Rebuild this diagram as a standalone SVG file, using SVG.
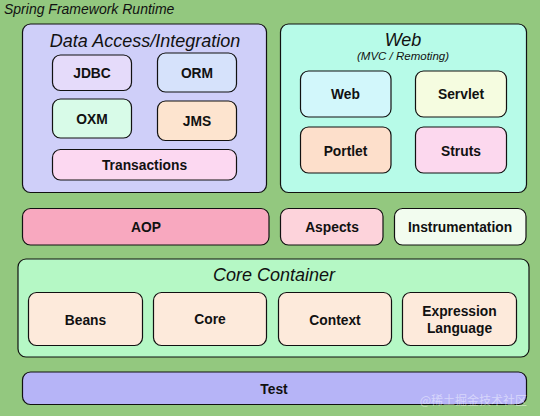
<svg xmlns="http://www.w3.org/2000/svg" width="540" height="416" viewBox="0 0 540 416">
<style>
.box{stroke:#111;stroke-width:1.2}
.lbl{font-family:"Liberation Sans",Arial,sans-serif;font-weight:bold;font-size:13.8px;fill:#111;text-anchor:middle}
.ttl{font-family:"Liberation Sans",Arial,sans-serif;font-style:italic;font-size:18px;fill:#111;text-anchor:middle}
</style>
<rect x="0" y="0" width="540" height="416" fill="#93c87f"/>
<text x="4" y="14" font-family="Liberation Sans, Arial, sans-serif" font-style="italic" font-size="14" fill="#111">Spring Framework Runtime</text>

<g id="data-access">
<rect class="box" x="22.5" y="24" width="244" height="168.5" rx="8" fill="#cfcff9"/>
<text class="ttl" x="145" y="47">Data Access/Integration</text>
</g>
<g id="jdbc"><rect class="box" x="52.5" y="55" width="79" height="35.5" rx="8" fill="#e5dbfa"/><text class="lbl" x="92" y="77.5">JDBC</text></g>
<g id="orm"><rect class="box" x="157.5" y="53" width="79" height="39" rx="8" fill="#d6e2fb"/><text class="lbl" x="197" y="77.5">ORM</text></g>
<g id="oxm"><rect class="box" x="52.5" y="99" width="79" height="39" rx="8" fill="#d8fbe8"/><text class="lbl" x="92" y="123.5">OXM</text></g>
<g id="jms"><rect class="box" x="157.5" y="101" width="79" height="39.5" rx="8" fill="#fde4cf"/><text class="lbl" x="197" y="125.5">JMS</text></g>
<g id="transactions"><rect class="box" x="52.5" y="149.5" width="184" height="30.5" rx="8" fill="#fcd8f1"/><text class="lbl" x="144.5" y="170">Transactions</text></g>

<g id="web-group">
<rect class="box" x="280.5" y="24" width="246" height="168.5" rx="8" fill="#b7fbe8"/>
<text class="ttl" x="403" y="46">Web</text>
<text x="403" y="60" font-family="Liberation Sans, Arial, sans-serif" font-style="italic" font-size="11.5" fill="#111" text-anchor="middle">(MVC / Remoting)</text>
</g>
<g id="web"><rect class="box" x="300.5" y="71" width="90.5" height="46" rx="8" fill="#d2f7fb"/><text class="lbl" x="345.5" y="99">Web</text></g>
<g id="servlet"><rect class="box" x="415.5" y="71" width="91" height="46" rx="8" fill="#f5fce0"/><text class="lbl" x="461" y="99">Servlet</text></g>
<g id="portlet"><rect class="box" x="300.5" y="127" width="90.5" height="46" rx="8" fill="#fddfcb"/><text class="lbl" x="345.5" y="156">Portlet</text></g>
<g id="struts"><rect class="box" x="415.5" y="127" width="91" height="46" rx="8" fill="#fcd8ee"/><text class="lbl" x="461" y="156">Struts</text></g>

<g id="aop"><rect class="box" x="22.5" y="208.5" width="246.5" height="36.5" rx="8" fill="#f8a8bf"/><text class="lbl" x="146" y="232">AOP</text></g>
<g id="aspects"><rect class="box" x="280.5" y="208.5" width="102.5" height="36.5" rx="8" fill="#fdd3db"/><text class="lbl" x="332" y="232">Aspects</text></g>
<g id="instrumentation"><rect class="box" x="394.5" y="208.5" width="131.5" height="36.5" rx="8" fill="#f2fcef"/><text class="lbl" x="460" y="232">Instrumentation</text></g>

<g id="core-container">
<rect class="box" x="18" y="259" width="511" height="98" rx="8" fill="#b5f8c5"/>
<text class="ttl" x="274" y="281">Core Container</text>
</g>
<g id="beans"><rect class="box" x="28.5" y="292.5" width="114" height="53" rx="8" fill="#fdeadb"/><text class="lbl" x="85.5" y="325">Beans</text></g>
<g id="core"><rect class="box" x="153.5" y="292.5" width="113" height="53" rx="8" fill="#fdeadb"/><text class="lbl" x="210" y="324">Core</text></g>
<g id="context"><rect class="box" x="278.5" y="292.5" width="113" height="53" rx="8" fill="#fdeadb"/><text class="lbl" x="335" y="325">Context</text></g>
<g id="expression"><rect class="box" x="402.5" y="292.5" width="114" height="53" rx="8" fill="#fdeadb"/><text class="lbl" x="459.5" y="316">Expression</text><text class="lbl" x="459.5" y="333">Language</text></g>

<g id="test"><rect class="box" x="22.5" y="372" width="504" height="32.5" rx="8" fill="#b6b4f7"/><text class="lbl" x="274" y="393.5">Test</text></g>

<text x="527" y="405" font-family="Noto Sans CJK SC, sans-serif" font-size="12" fill="#ffffff" fill-opacity="0.45" text-anchor="end">@稀土掘金技术社区</text>
</svg>
